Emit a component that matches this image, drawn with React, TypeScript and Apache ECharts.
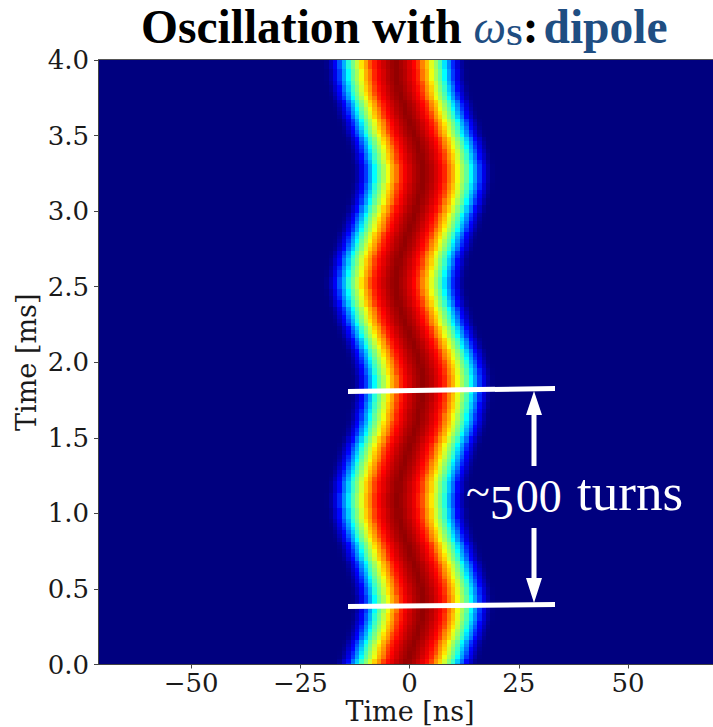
import React, { useEffect, useRef } from "react";
import * as echarts from "echarts";

const xTicks = [-50, -25, 0, 25, 50];
const bunchColumns = [-24,-23,-22,-21,-20,-19,-18,-17,-16,-15,-14,-13,-12,-11,-10,-9,-8,-7,-6,-5,-4,-3,-2,-1,0,1,2,3,4,5,6,7,8,9,10,11,12,13,14,15,16,17,18,19,20,21,22,23,24];
const rowStep = 0.025;
// bunch centre in ns per row, bottom (0 ms) to top (4 ms)
const bunchCentre = [
  -0.7,-0.4,-0.1,0.2,0.5,0.8,1.1,1.4,1.7,2.0,2.3,2.5,2.7,2.8,2.9,3.0,3.0,
  3.0,2.9,2.8,2.7,2.5,2.3,2.1,1.8,1.5,1.2,0.9,0.6,0.3,0.0,-0.3,-0.6,-0.9,-1.2,-1.5,-1.8,-2.0,-2.2,-2.4,-2.5,-2.6,-2.7,-2.7,-2.7,
  -2.7,-2.6,-2.5,-2.4,-2.2,-2.0,-1.8,-1.6,-1.3,-1.0,-0.8,-0.5,-0.2,0.1,0.4,0.6,0.9,1.2,1.4,1.7,1.9,2.1,2.3,2.5,2.6,2.7,2.8,2.9,3.0,3.0,
  3.0,2.9,2.8,2.7,2.5,2.3,2.0,1.7,1.4,1.1,0.8,0.4,0.1,-0.2,-0.6,-0.9,-1.2,-1.5,-1.8,-2.1,-2.4,-2.6,-2.8,-3.0,-3.1,-3.2,
  -3.2,-3.2,-3.1,-3.0,-2.8,-2.6,-2.4,-2.2,-1.9,-1.6,-1.3,-1.0,-0.7,-0.4,-0.1,0.2,0.5,0.8,1.1,1.4,1.6,1.9,2.1,2.3,2.5,2.7,2.8,2.9,3.0,3.0,
  3.0,2.9,2.8,2.6,2.4,2.2,2.0,1.7,1.4,1.1,0.8,0.5,0.2,-0.1,-0.4,-0.7,-1.0,-1.3,-1.6,-1.9,-2.2,-2.4,-2.6,-2.8,-2.9,-3.0,-3.1,-3.2,-3.2,-3.2,
];
// intensity against distance from the centre, one entry per 0.25 ns
const bunchProfile = [
  0.98,0.98,0.975,0.97,
  0.965,0.96,0.955,0.95,
  0.945,0.94,0.93,0.925,
  0.915,0.91,0.90,0.895,
  0.885,0.875,0.865,0.85,
  0.84,0.825,0.81,0.795,
  0.76,0.745,0.73,0.715,
  0.70,0.685,0.67,0.65,
  0.61,0.595,0.58,0.565,
  0.54,0.525,0.505,0.49,
  0.47,0.45,0.43,0.41,
  0.375,0.35,0.325,0.30,
  0.28,0.26,0.235,0.21,
  0.18,0.16,0.13,0.115,
  0.10,0.085,0.07,0.055,
  0.04,0.03,0.02,0.012,
  0.006,0.003,0.001,0,
];
const jet = ["#00007f","#0000ff","#007fff","#00ffff","#7fff7f","#ffff00","#ff7f00","#ff0000","#7f0000"];

const cells: number[][] = [];
bunchCentre.forEach((c, r) => {
  bunchColumns.forEach((x) => {
    const v = bunchProfile[Math.round(Math.abs(x - c) * 4)];
    if (v) cells.push([x, r * rowStep, v]);
  });
});

const AXIS_FONT = "DejaVu Serif";
const white = "#ffffff";
const blue = "#1f4e82";

export default function App() {
  const ref = useRef<HTMLDivElement>(null);
  useEffect(() => {
    const chart = echarts.init(ref.current!, undefined, { renderer: "svg" });
    const labelColor = "#1a1a1a";
    const axisLine = { lineStyle: { color: "#444", width: 1 } };
    const axisTick = { length: 4, lineStyle: { color: "#444", width: 1 } };
    chart.setOption({
      animation: false,
      backgroundColor: "#fff",
      grid: {
        left: 98, top: 60, right: -9, bottom: 62.5, outerBoundsMode: "none",
        show: true, backgroundColor: "#00007f", borderWidth: 0,
      },
      xAxis: {
        type: "value", min: -71.3, max: 71.5, z: 5,
        splitLine: { show: false },
        axisLine: { ...axisLine, onZero: false },
        axisTick: { ...axisTick, customValues: xTicks },
        axisLabel: {
          customValues: xTicks,
          formatter: (v: number) => String(v).replace("-", "\u2212"),
          fontFamily: AXIS_FONT, fontSize: 26, color: labelColor, margin: 5,
        },
        name: "Time [ns]", nameLocation: "middle", nameGap: 33, nameMoveOverlap: false,
        nameTextStyle: { fontFamily: AXIS_FONT, fontSize: 27, color: labelColor },
      },
      yAxis: {
        type: "value", min: 0, max: 4, interval: 0.5, z: 5,
        splitLine: { show: false },
        axisLine: { ...axisLine, show: true, onZero: false },
        axisTick,
        axisLabel: {
          formatter: (v: number) => v.toFixed(1),
          fontFamily: AXIS_FONT, fontSize: 26, color: labelColor, margin: 9,
        },
        name: "Time [ms]", nameLocation: "middle", nameGap: 58, nameMoveOverlap: false,
        nameTextStyle: { fontFamily: AXIS_FONT, fontSize: 27, color: labelColor },
      },
      visualMap: { type: "continuous", show: false, min: 0, max: 1, dimension: 2, seriesIndex: 0, inRange: { color: jet } },
      series: [{
        type: "custom",
        coordinateSystem: "cartesian2d",
        clip: true,
        z: 1,
        encode: { x: 0, y: 1 },
        data: cells,
        renderItem: (p: any, api: any) => {
          const x = api.value(0), t = api.value(1);
          const a = api.coord([x - 0.5, t + rowStep / 2]);
          const b = api.coord([x + 0.5, t - rowStep / 2]);
          const cs = p.coordSys;
          const x0 = Math.round(a[0]), y0 = Math.max(Math.round(a[1]), cs.y);
          const x1 = Math.round(b[0]), y1 = Math.min(Math.round(b[1]), cs.y + cs.height);
          return { type: "rect", shape: { x: x0, y: y0, width: x1 - x0, height: y1 - y0 }, style: { fill: api.visual("color") } };
        },
      }],
      graphic: [
        { type: "line", shape: { x1: 98, y1: 59.5, x2: 713, y2: 59.5 }, style: { stroke: "#555", lineWidth: 1 }, z: 100 },
        { type: "polygon", shape: { points: [[348, 389],[555, 386],[555, 391],[348, 394]] }, style: { fill: white }, z: 100 },
        { type: "polygon", shape: { points: [[348, 604],[555, 602],[555, 607],[348, 609]] }, style: { fill: white }, z: 100 },
        { type: "polygon", shape: { points: [[534, 391],[542, 415],[536.5, 415],[536.5, 466],[531.5, 466],[531.5, 415],[526, 415]] }, style: { fill: white }, z: 100 },
        { type: "polygon", shape: { points: [[534, 603],[542, 578],[536.5, 578],[536.5, 528],[531.5, 528],[531.5, 578],[526, 578]] }, style: { fill: white }, z: 100 },
        {
          type: "text", x: 466, y: 492, z: 101,
          style: {
            text: "{t|~}{f|5}{o|00}{a| turns}",
            fill: white,
            verticalAlign: "middle",
            rich: {
              t: { fontFamily: "Liberation Serif", fontSize: 44, fill: white },
              a: { fontFamily: "Liberation Serif", fontSize: 53, fill: white },
              f: { fontFamily: "Liberation Serif", fontSize: 48, fill: white, padding: [20, 0, 0, 0] },
              o: { fontFamily: "Liberation Serif", fontSize: 46, fill: white, padding: [8, 2, 0, 2] },
            },
          },
        },
        {
          type: "text", x: 141, y: 27, z: 101,
          style: {
            text: "{b|Oscillation with }{w|\u03c9}{s|S}{c|:}{d|dipole}",
            verticalAlign: "middle",
            rich: {
              b: { fontFamily: "Liberation Serif", fontWeight: "bold", fontSize: 47.5, fill: "#000" },
              c: { fontFamily: "Liberation Serif", fontWeight: "bold", fontSize: 47.5, fill: "#000", padding: [0, 5, 0, 0] },
              w: { fontFamily: "Liberation Serif", fontStyle: "italic", fontSize: 46, fill: blue },
              s: { fontFamily: "Liberation Serif", fontWeight: "bold", fontSize: 30, fill: blue, padding: [14, 0, 0, 0] },
              d: { fontFamily: "Liberation Serif", fontWeight: "bold", fontSize: 47.5, fill: blue },
            },
          },
        },
      ],
    });
    return () => chart.dispose();
  }, []);
  return <div ref={ref} style={{ position: "absolute", left: 0, top: 0, width: 713, height: 727, overflow: "hidden" }} />;
}
